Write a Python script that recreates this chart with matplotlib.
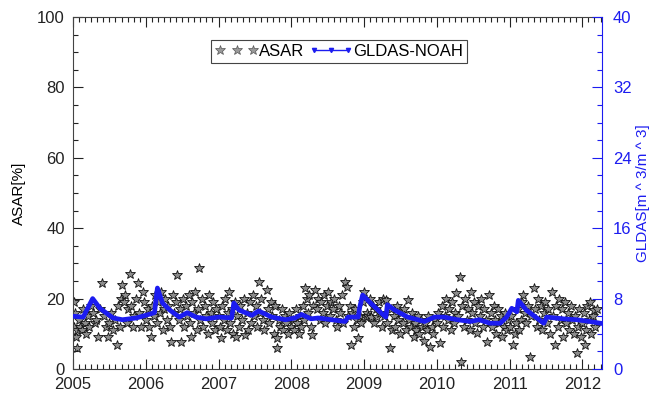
import matplotlib
matplotlib.use('Agg')
import matplotlib.pyplot as plt
from matplotlib.lines import Line2D
from matplotlib.ticker import MultipleLocator

plt.rcParams['font.family'] = ['Liberation Sans', 'DejaVu Sans']

# ASAR soil moisture (%), decimal year -> value
asar_t = [
    2005.01, 2005.02, 2005.03, 2005.04, 2005.05, 2005.06, 2005.08, 2005.10, 2005.12, 2005.14,
    2005.16, 2005.18, 2005.20, 2005.22, 2005.25, 2005.28, 2005.30, 2005.32, 2005.34, 2005.37,
    2005.40, 2005.42, 2005.45, 2005.48, 2005.50, 2005.52, 2005.55, 2005.58, 2005.60, 2005.62,
    2005.64, 2005.66, 2005.68, 2005.70, 2005.72, 2005.74, 2005.76, 2005.78, 2005.80, 2005.82,
    2005.84, 2005.86, 2005.89, 2005.91, 2005.93, 2005.96, 2005.98,
    2006.01, 2006.03, 2006.05, 2006.07, 2006.09, 2006.11, 2006.13, 2006.15, 2006.17, 2006.19,
    2006.21, 2006.23, 2006.25, 2006.27, 2006.29, 2006.31, 2006.33, 2006.35, 2006.37, 2006.39,
    2006.41, 2006.43, 2006.45, 2006.47, 2006.49, 2006.51, 2006.53, 2006.55, 2006.57, 2006.59,
    2006.61, 2006.62, 2006.64, 2006.66, 2006.68, 2006.70, 2006.72, 2006.73, 2006.75, 2006.77,
    2006.79, 2006.81, 2006.83, 2006.85, 2006.87, 2006.89, 2006.91, 2006.93, 2006.95, 2006.97,
    2007.00, 2007.02, 2007.03, 2007.05, 2007.07, 2007.09, 2007.11, 2007.13, 2007.14, 2007.16,
    2007.18, 2007.20, 2007.22, 2007.24, 2007.26, 2007.28, 2007.30, 2007.32, 2007.35, 2007.37,
    2007.39, 2007.41, 2007.43, 2007.45, 2007.47, 2007.49, 2007.51, 2007.53, 2007.55, 2007.57,
    2007.59, 2007.61, 2007.63, 2007.66, 2007.68, 2007.70, 2007.72, 2007.74, 2007.76, 2007.78,
    2007.80, 2007.81, 2007.83, 2007.85, 2007.87, 2007.89, 2007.91, 2007.93, 2007.95, 2007.97,
    2008.00, 2008.02, 2008.04, 2008.06, 2008.08, 2008.10, 2008.12, 2008.14, 2008.16, 2008.18,
    2008.19, 2008.21, 2008.23, 2008.25, 2008.27, 2008.28, 2008.30, 2008.33, 2008.35, 2008.37,
    2008.39, 2008.41, 2008.43, 2008.45, 2008.47, 2008.49, 2008.51, 2008.53, 2008.55, 2008.57,
    2008.59, 2008.61, 2008.63, 2008.65, 2008.67, 2008.69, 2008.71, 2008.74, 2008.76, 2008.78,
    2008.80, 2008.82, 2008.84, 2008.86, 2008.88, 2008.90, 2008.92, 2008.94, 2008.96, 2008.98,
    2009.00, 2009.02, 2009.04, 2009.06, 2009.08, 2009.10, 2009.12, 2009.14, 2009.16, 2009.18,
    2009.20, 2009.22, 2009.24, 2009.26, 2009.28, 2009.30, 2009.32, 2009.35, 2009.37, 2009.39,
    2009.41, 2009.43, 2009.45, 2009.47, 2009.49, 2009.51, 2009.53, 2009.55, 2009.57, 2009.60,
    2009.62, 2009.64, 2009.66, 2009.68, 2009.70, 2009.72, 2009.74, 2009.76, 2009.78, 2009.80,
    2009.82, 2009.84, 2009.86, 2009.88, 2009.91, 2009.93, 2009.95, 2009.97,
    2010.00, 2010.02, 2010.05, 2010.07, 2010.09, 2010.11, 2010.13, 2010.15, 2010.17, 2010.19,
    2010.21, 2010.23, 2010.25, 2010.27, 2010.29, 2010.32, 2010.33, 2010.35, 2010.37, 2010.39,
    2010.41, 2010.43, 2010.45, 2010.47, 2010.49, 2010.51, 2010.53, 2010.55, 2010.57, 2010.59,
    2010.61, 2010.63, 2010.65, 2010.67, 2010.69, 2010.72, 2010.74, 2010.76, 2010.78, 2010.80,
    2010.82, 2010.84, 2010.86, 2010.88, 2010.90, 2010.92, 2010.94, 2010.96, 2010.98,
    2011.00, 2011.02, 2011.05, 2011.07, 2011.09, 2011.11, 2011.13, 2011.15, 2011.17, 2011.19,
    2011.21, 2011.23, 2011.25, 2011.28, 2011.30, 2011.33, 2011.35, 2011.37, 2011.39, 2011.41,
    2011.43, 2011.45, 2011.47, 2011.49, 2011.51, 2011.53, 2011.55, 2011.58, 2011.60, 2011.62,
    2011.64, 2011.66, 2011.68, 2011.70, 2011.72, 2011.74, 2011.76, 2011.78, 2011.80, 2011.82,
    2011.84, 2011.86, 2011.88, 2011.90, 2011.92, 2011.94, 2011.96, 2011.98,
    2012.00, 2012.02, 2012.03, 2012.05, 2012.07, 2012.09, 2012.10, 2012.12, 2012.14, 2012.16,
    2012.18, 2012.20,
]
asar_v = [
    19, 12, 16, 9, 6, 11, 14, 12, 11, 17,
    13, 10, 15, 12, 18, 16, 13, 14, 9, 17,
    24.5, 15, 12, 9, 13, 16, 11, 14, 6.8, 18,
    12, 20, 24, 19, 21, 13, 17, 27, 18, 12,
    15, 20, 24.5, 16, 12, 22, 19,
    14, 17, 12, 9, 18, 15, 21, 13, 19, 16,
    22, 11, 17, 20, 14, 18, 12, 7.7, 21, 16,
    19, 26.7, 14, 17, 7.7, 20, 12, 18, 15, 21,
    13, 9, 19, 16, 22, 11, 17, 28.7, 14, 20,
    12, 18, 15, 10, 21, 16, 13, 19, 11, 17,
    15, 12, 8.8, 18, 14, 20, 11, 16, 22, 13,
    17, 10, 19, 9, 15, 12, 18, 14, 20, 9.6,
    16, 11, 19, 13, 21, 15, 18, 12, 24.7, 16,
    20, 14, 11, 22.4, 17, 13, 19, 15, 10, 18,
    8.8, 6, 14, 12, 17, 11, 15, 13, 10, 16,
    12, 14, 11, 17, 13, 10, 15, 12, 18, 14,
    23, 20, 16, 21, 12, 9.6, 18, 22.4, 17, 20,
    14, 19, 16, 21, 13, 18, 22, 15, 19, 17,
    20, 14, 12, 18, 16, 21, 13, 24.7, 23.3, 15,
    18, 6.8, 16, 12, 17, 14, 8.8, 15, 13, 19,
    22, 14.8, 16, 15, 20, 14.8, 18, 13, 17, 14.8,
    19, 16, 12, 20, 15, 19.6, 13, 6, 17, 11,
    15, 12, 18, 14, 10, 16, 13, 17, 11, 19.6,
    14, 12, 16, 9, 13, 11, 15, 10, 14, 12,
    8, 13, 11, 15, 6.3, 12, 10, 14,
    13, 16, 7.4, 18, 12, 15, 20, 14, 17, 11,
    19, 13, 16, 21.6, 15, 26.1, 2.0, 18, 12, 20,
    14, 17, 11, 22, 16, 19, 13, 10.2, 18, 15,
    20, 12, 17, 14, 7.7, 21, 16, 12, 18, 14,
    10, 17, 13, 15, 9, 12, 16, 11, 14,
    12, 15, 6.8, 10, 13, 17, 11, 14, 19, 21,
    16, 13, 18, 3.4, 15, 23, 17, 12, 20, 14,
    18, 11, 16, 19, 13, 17, 10, 22, 15, 6.8,
    18, 12, 20, 14, 17, 9, 19, 13, 16, 11,
    18, 14, 10, 15, 4.5, 12, 17, 9,
    13, 16, 6.8, 11, 18, 14, 19, 10, 15, 16.8,
    12, 17,
]

# GLDAS-NOAH soil moisture (right axis units)
gldas_t = [
    2005.00, 2005.14, 2005.27, 2005.37, 2005.55, 2005.68, 2005.87, 2006.00, 2006.12, 2006.16,
    2006.23, 2006.33, 2006.46, 2006.57, 2006.69, 2006.83, 2007.00, 2007.18, 2007.21, 2007.28,
    2007.46, 2007.55, 2007.73, 2007.92, 2008.05, 2008.14, 2008.27, 2008.37, 2008.55, 2008.74,
    2008.78, 2008.92, 2008.94, 2008.98, 2009.09, 2009.23, 2009.30, 2009.32, 2009.42, 2009.60,
    2009.83, 2009.97, 2010.10, 2010.28, 2010.46, 2010.58, 2010.73, 2010.87, 2010.96, 2011.03,
    2011.10, 2011.12, 2011.23, 2011.47, 2011.51, 2011.74, 2011.92, 2012.10, 2012.25,
]
gldas_v = [
    6.0, 5.9, 8.0, 6.9, 5.8, 5.6, 5.8, 6.1, 6.4, 9.2,
    7.5, 6.7, 5.9, 6.4, 5.9, 5.7, 5.9, 5.8, 7.5, 6.7,
    6.1, 6.6, 5.9, 5.6, 5.8, 6.2, 5.7, 5.8, 5.6, 5.4,
    5.9, 5.9, 7.0, 8.4, 7.5, 6.4, 5.9, 7.3, 6.7, 5.9,
    5.4, 5.9, 5.9, 5.6, 5.4, 5.6, 5.2, 5.2, 5.9, 6.9,
    6.5, 7.8, 6.7, 5.2, 5.9, 5.7, 5.6, 5.4, 5.2,
]

BLUE = '#1c1cf0'


def main():
    fig = plt.figure(figsize=(6.52, 3.94), dpi=100)
    ax = fig.add_axes([73 / 652, 25 / 394, 529 / 652, 352 / 394])
    ax2 = ax.twinx()

    ax.plot(asar_t, asar_v, linestyle='none', marker='*', markersize=7,
            markerfacecolor='#8c8c8c', markeredgecolor='#111111', markeredgewidth=0.6)
    ax2.plot(gldas_t, gldas_v, '-', color=BLUE, linewidth=3.4)

    ax.set_xlim(2005, 2012.27)
    ax.set_ylim(0, 100)
    ax2.set_ylim(0, 40)

    ax.xaxis.set_major_locator(MultipleLocator(1))
    ax.xaxis.set_minor_locator(MultipleLocator(1 / 12))
    ax.xaxis.set_major_formatter(matplotlib.ticker.FuncFormatter(lambda v, p: f"{int(round(v))}"))
    ax.yaxis.set_major_locator(MultipleLocator(20))
    ax.yaxis.set_minor_locator(MultipleLocator(5))
    ax2.yaxis.set_major_locator(MultipleLocator(8))
    ax2.yaxis.set_minor_locator(MultipleLocator(2))

    ax.tick_params(axis='both', which='both', direction='in', top=True, right=False,
                   labelsize=12, colors='#222222', pad=6)
    ax.tick_params(which='major', length=7, width=0.8)
    ax.tick_params(which='minor', length=3.5, width=0.8)
    ax2.tick_params(axis='y', which='both', direction='in', colors=BLUE, labelsize=12, pad=8)
    ax2.tick_params(which='major', length=7, width=0.8)
    ax2.tick_params(which='minor', length=3.5, width=0.8)

    for s in ['left', 'bottom', 'top']:
        ax.spines[s].set_color('#444444')
        ax2.spines[s].set_visible(False)
    ax.spines['right'].set_visible(False)
    ax2.spines['right'].set_color(BLUE)

    ax.set_ylabel('ASAR[%]', fontsize=11, labelpad=8)
    ax2.set_ylabel('GLDAS[m ^ 3/m ^ 3]', fontsize=11, color=BLUE)
    ax2.yaxis.set_label_coords(1.064, 0.5)

    h1 = Line2D([], [], linestyle='none', marker='*', markersize=7,
                markerfacecolor='#9a9a9a', markeredgecolor='#555555', markeredgewidth=0.5)
    h2 = Line2D([], [], color=BLUE, linewidth=1.0, marker='v', markersize=3)
    leg = ax2.legend([h1, h2], ['ASAR', 'GLDAS-NOAH'], loc='upper center',
                     bbox_to_anchor=(0.503, 0.935), borderaxespad=0, ncol=2, numpoints=3,
                     fontsize=12, handlelength=2.6, handletextpad=0.05, columnspacing=0.3,
                     borderpad=0.25, fancybox=False, framealpha=1, edgecolor='#444444')
    leg.get_frame().set_linewidth(0.8)

    fig.savefig('out.png', dpi=100)
    plt.close(fig)


if __name__ == "__main__":
    main()
